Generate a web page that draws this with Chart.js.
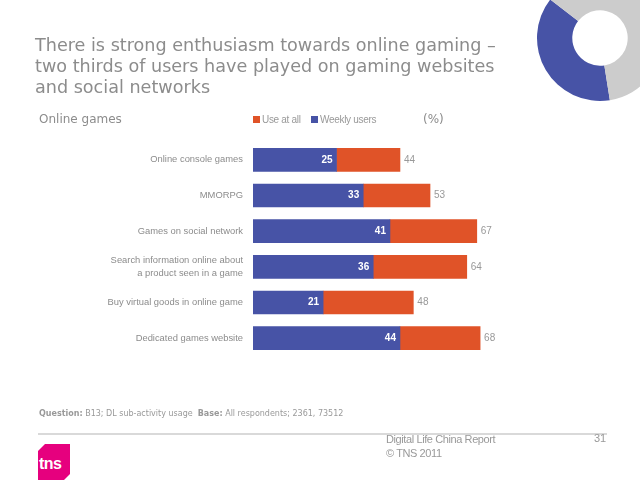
<!DOCTYPE html>
<html><head><meta charset="utf-8">
<script src="https://cdn.jsdelivr.net/npm/chart.js@4"></script>
<style>
html,body{margin:0;padding:0;background:#fff;width:640px;height:480px;overflow:hidden;position:relative;font-family:"Liberation Sans",Arial,sans-serif;}
#main{position:absolute;left:0;top:0;}
#donut{position:absolute;left:536px;top:-26px;}
.t{position:absolute;white-space:nowrap;}
#title{left:35px;top:35px;font-family:"DejaVu Sans",sans-serif;font-size:17.6px;line-height:21px;color:#8c8c8c;}
#sub{left:39px;top:112px;font-size:12px;color:#8c8c8c;font-family:"DejaVu Sans",sans-serif;}
.lg{top:114px;font-size:10px;color:#999;font-family:"Liberation Sans",sans-serif;letter-spacing:-0.3px;}
.sq{display:inline-block;width:7px;height:7px;margin-right:2px;vertical-align:-0px;}
#pct{left:423px;top:112px;font-size:12px;color:#8c8c8c;font-family:"DejaVu Sans",sans-serif;}
#q{left:39px;top:409px;font-size:8px;color:#999;font-family:"DejaVu Sans",sans-serif;}
#rule{position:absolute;left:38px;top:433px;width:569px;height:2px;background:#d9d9d9;}
#logo{position:absolute;left:38px;top:444px;width:32px;height:37px;background:#e6007e;clip-path:polygon(7px 0,100% 0,100% 30px,25px 100%,0 100%,0 7px);}
#logo span{position:absolute;left:1px;top:11px;color:#fff;font-family:"Liberation Sans",sans-serif;font-size:16px;font-weight:bold;letter-spacing:-0.5px;}
#rep{left:386px;top:432px;font-size:11px;line-height:14px;color:#999;font-family:"Liberation Sans",sans-serif;letter-spacing:-0.4px;}
#pg{left:594px;top:432px;font-size:11px;color:#999;}
</style></head><body>
<canvas id="donut" width="128" height="128"></canvas>
<canvas id="main" width="640" height="480"></canvas>
<div class="t" id="title">There is strong enthusiasm towards online gaming –<br>two thirds of users have played on gaming websites<br>and social networks</div>
<div class="t" id="sub">Online games</div>
<div class="t lg" style="left:253px"><span class="sq" style="background:#e05328"></span>Use at all</div>
<div class="t lg" style="left:311px"><span class="sq" style="background:#4753a6"></span>Weekly users</div>
<div class="t" id="pct">(%)</div>
<div class="t" id="q"><b>Question:</b> B13; DL sub-activity usage &nbsp;<b>Base:</b> All respondents; 2361, 73512</div>
<div id="rule"></div>
<div id="logo"><span>tns</span></div>
<div class="t" id="rep">Digital Life China Report<br>© TNS 2011</div>
<div class="t" id="pg">31</div>
<script>
const categories = [
  "Online console games",
  "MMORPG",
  "Games on social network",
  ["Search information online about", "a product seen in a game"],
  "Buy virtual goods in online game",
  "Dedicated games website"
];
const weeklyUsers = [25, 33, 41, 36, 21, 44];
const useAtAll = [44, 53, 67, 64, 48, 68];
const donutShares = [38, 62];

const BLUE = "#4753a6", ORANGE = "#e05328";

const labelPlugin = {
  id: "vals",
  afterDatasetsDraw(chart) {
    const ctx = chart.ctx;
    const mB = chart.getDatasetMeta(0), mO = chart.getDatasetMeta(1);
    ctx.save();
    ctx.textBaseline = "middle";
    mB.data.forEach((el, i) => {
      ctx.font = "bold 10px 'Liberation Sans',sans-serif";
      ctx.fillStyle = "#fff";
      ctx.textAlign = "right";
      ctx.fillText(String(weeklyUsers[i]), el.x - 4, el.y);
    });
    mO.data.forEach((el, i) => {
      ctx.font = "10px 'Liberation Sans',sans-serif";
      ctx.fillStyle = "#999";
      ctx.textAlign = "left";
      ctx.fillText(String(useAtAll[i]), el.x + 4, el.y);
    });
    ctx.restore();
  }
};

new Chart(document.getElementById("main"), {
  type: "bar",
  data: {
    labels: categories,
    datasets: [
      { label: "Weekly users", data: weeklyUsers, backgroundColor: BLUE, barThickness: 23 },
      { label: "Use at all", data: useAtAll.map((v, i) => v - weeklyUsers[i]), backgroundColor: ORANGE, barThickness: 23 }
    ]
  },
  options: {
    indexAxis: "y",
    responsive: false,
    animation: false,
    layout: { padding: { left: 0, right: 53, top: 142, bottom: 124 } },
    plugins: { legend: { display: false }, tooltip: { enabled: false } },
    scales: {
      x: { stacked: true, min: 0, max: 100, display: false },
      y: {
        stacked: true,
        grid: { display: false, drawTicks: false },
        border: { display: false },
        ticks: {
          color: "#8c8c8c",
          font: { family: "'Liberation Sans',sans-serif", size: 9.4, lineHeight: 1.3 },
          padding: 10
        },
        afterFit(scale) { scale.width = 253; }
      }
    }
  },
  plugins: [labelPlugin]
});

new Chart(document.getElementById("donut"), {
  type: "doughnut",
  data: { labels: ["a", "b"], datasets: [{ data: donutShares, backgroundColor: [BLUE, "#cccccc"], borderWidth: 0 }] },
  options: {
    responsive: false, animation: false, rotation: 171, cutout: "44%",
    layout: { padding: 1 },
    plugins: { legend: { display: false }, tooltip: { enabled: false } }
  }
});
</script>
</body></html>
